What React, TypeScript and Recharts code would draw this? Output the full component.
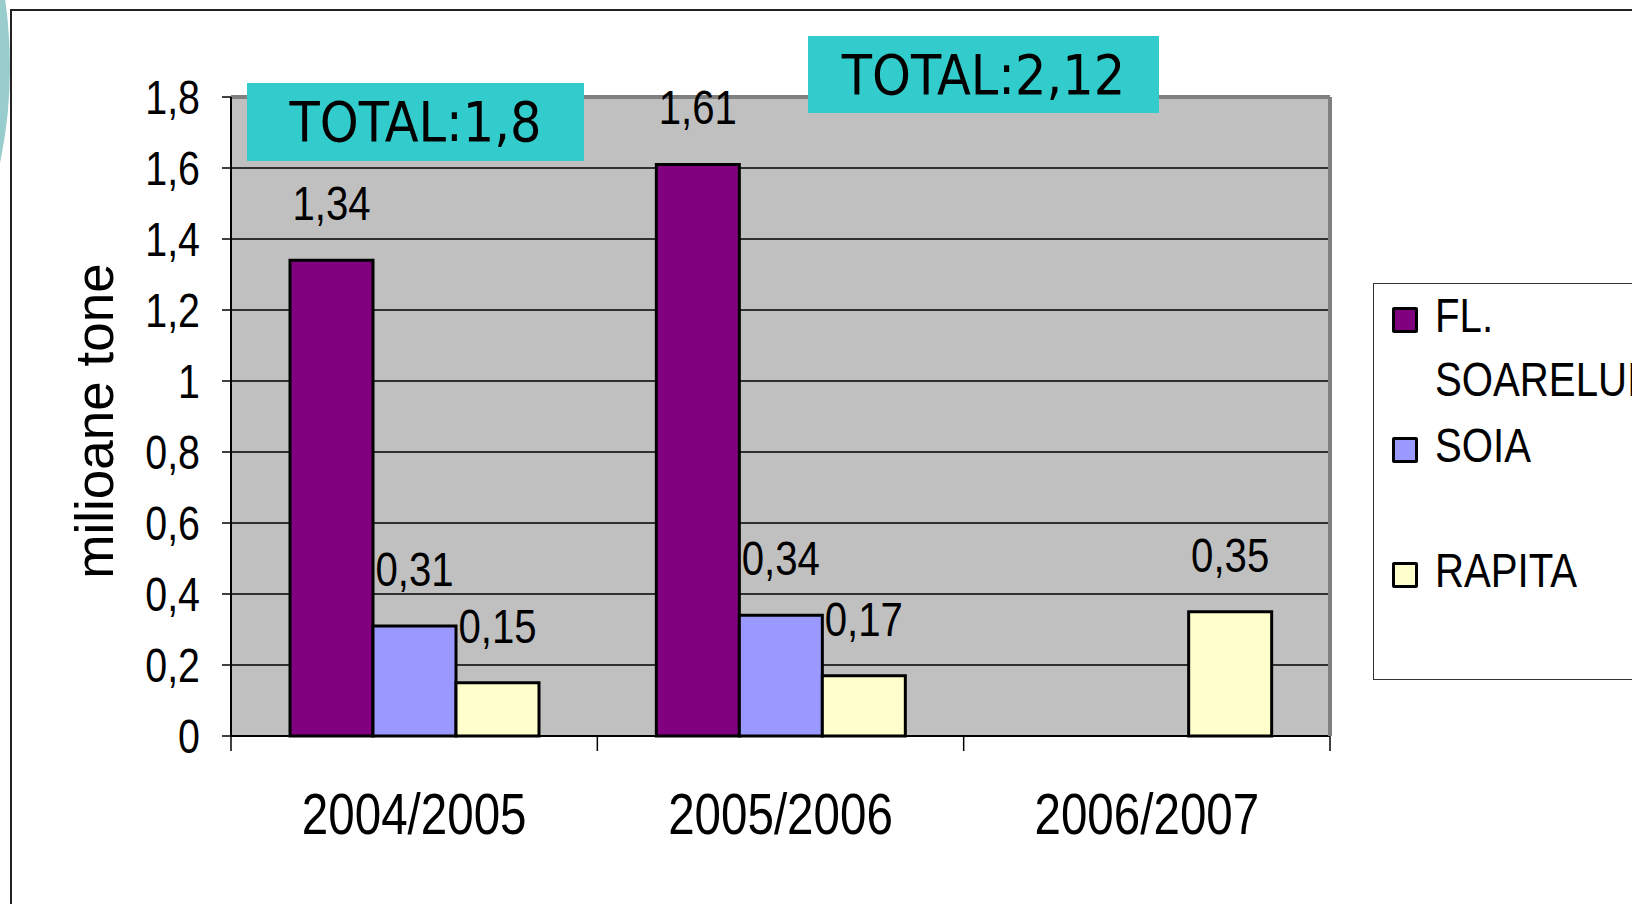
import React from 'react';
import { BarChart, Bar, XAxis, YAxis, CartesianGrid, LabelList } from 'recharts';

const categories = ['2004/2005', '2005/2006', '2006/2007'];
const sunflower = [1.34, 1.61, null];
const soy = [0.31, 0.34, null];
const rapeseed = [0.15, 0.17, 0.35];
const yTicks = [0, 0.2, 0.4, 0.6, 0.8, 1, 1.2, 1.4, 1.6, 1.8];
const totals = ['TOTAL:1,8', 'TOTAL:2,12'];

const series = [
  { key: 'fl', name: 'FL. SOARELUI', color: '#800080' },
  { key: 'soia', name: 'SOIA', color: '#9999FF' },
  { key: 'rapita', name: 'RAPITA', color: '#FFFFCC' },
];

const data = categories.map((cat, i) => ({
  cat,
  fl: sunflower[i],
  soia: soy[i],
  rapita: rapeseed[i],
}));

const SANS = '"Liberation Sans", Arial, sans-serif';
const COND = '"DejaVu Sans Condensed", "DejaVu Sans", Verdana, sans-serif';
const SQUEEZE = 0.82; // the original uses a narrow Arial
const X_LABEL_GAP = 57;
const X_TICK_LEN = 15;

const comma = (v: any) => (v == null ? '' : String(v).replace('.', ','));

// narrow-looking svg text: scale horizontally around the anchor point
const NarrowText = ({ x, y, anchor, dy, size, children }: any) => (
  <g transform={`translate(${x},${y}) scale(${SQUEEZE},1)`}>
    <text x={0} y={0} dy={dy} textAnchor={anchor} fontFamily={SANS} fontSize={size} fill="#000">
      {children}
    </text>
  </g>
);

// category label + tick marks on the category boundaries (Excel style)
const XTick = (props: any) => {
  const { x, y, payload, index } = props;
  const half = payload.offset || 183;
  const axisY = y - X_LABEL_GAP;
  const last = index === categories.length - 1;
  return (
    <g>
      <line x1={x - half} x2={x - half} y1={axisY} y2={axisY + X_TICK_LEN} stroke="#000" strokeWidth={1.5} />
      {last && (
        <line x1={x + half} x2={x + half} y1={axisY} y2={axisY + X_TICK_LEN} stroke="#000" strokeWidth={1.5} />
      )}
      <NarrowText x={x} y={y} anchor="middle" dy="0.71em" size={58}>
        {payload.value}
      </NarrowText>
    </g>
  );
};

const YTick = (props: any) => (
  <NarrowText x={props.x} y={props.y} anchor="end" dy="0.355em" size={48}>
    {comma(props.payload.value)}
  </NarrowText>
);

const BarLabel = (props: any) => {
  if (props.value == null) return null;
  const vb = props.viewBox && props.viewBox.width != null ? props.viewBox : props;
  return (
    <NarrowText x={vb.x + vb.width / 2} y={vb.y - 40} anchor="middle" dy={0} size={49}>
      {comma(props.value)}
    </NarrowText>
  );
};

const TotalBox: React.FC<{ text: string; left: number; top: number; width: number; height: number }> = ({
  text,
  left,
  top,
  width,
  height,
}) => (
  <div
    style={{
      position: 'absolute',
      left,
      top,
      width,
      height,
      background: '#33CCCC',
      display: 'flex',
      alignItems: 'center',
      justifyContent: 'center',
      fontFamily: COND,
      fontSize: 55,
      color: '#000',
    }}
  >
    {text}
  </div>
);

const Swatch: React.FC<{ color: string; top: number }> = ({ color, top }) => (
  <div
    style={{
      position: 'absolute',
      left: 1392,
      top,
      width: 20,
      height: 20,
      background: color,
      border: '3px solid #000',
      borderRadius: 2,
    }}
  />
);

const LegendText: React.FC<{ text: string; top: number }> = ({ text, top }) => (
  <div
    style={{
      position: 'absolute',
      left: 1435,
      top,
      fontFamily: SANS,
      fontSize: 49,
      lineHeight: '49px',
      whiteSpace: 'nowrap',
      color: '#000',
      transform: `scaleX(${SQUEEZE})`,
      transformOrigin: 'left center',
    }}
  >
    {text}
  </div>
);

export default function App() {
  return (
    <div
      style={{
        position: 'absolute',
        left: 0,
        top: 0,
        width: 1632,
        height: 904,
        overflow: 'hidden',
        background: '#fff',
      }}
    >
      {/* slide decoration */}
      <div
        style={{
          position: 'absolute',
          left: 10 - 2 * 466,
          top: 67 - 466,
          width: 932,
          height: 932,
          borderRadius: '50%',
          background: '#99CCCC',
        }}
      />
      <div
        style={{
          position: 'absolute',
          left: 10,
          top: 9,
          width: 1700,
          height: 1000,
          borderLeft: '2px solid #222',
          borderTop: '2px solid #222',
          background: '#fff',
        }}
      />

      <div style={{ position: 'absolute', left: 0, top: 0 }}>
        <BarChart
          width={1632}
          height={904}
          data={data}
          margin={{ top: 96, right: 301, left: 230, bottom: 167 }}
          barGap={0}
          barSize={83}
        >
          <CartesianGrid vertical={false} stroke="#000" strokeWidth={1.5} fill="#C0C0C0" fillOpacity={1} />
          <XAxis
            dataKey="cat"
            height={1}
            tickLine={false}
            tickSize={0}
            tickMargin={X_LABEL_GAP}
            axisLine={{ stroke: '#000', strokeWidth: 2 }}
            tick={XTick}
            interval={0}
          />
          <XAxis
            xAxisId="top"
            dataKey="cat"
            orientation="top"
            height={1}
            tick={false}
            tickLine={false}
            axisLine={{ stroke: '#808080', strokeWidth: 4 }}
          />
          <YAxis
            domain={[0, 1.8]}
            ticks={yTicks}
            width={1}
            interval={0}
            tickSize={9}
            tickMargin={22}
            tickLine={{ stroke: '#000', strokeWidth: 1.5 }}
            axisLine={{ stroke: '#000', strokeWidth: 2 }}
            tick={YTick}
          />
          <YAxis
            yAxisId="right"
            orientation="right"
            domain={[0, 1.8]}
            width={1}
            tick={false}
            tickLine={false}
            axisLine={{ stroke: '#808080', strokeWidth: 4 }}
          />
          {series.map((s) => (
            <Bar
              key={s.key}
              dataKey={s.key}
              name={s.name}
              fill={s.color}
              stroke="#000"
              strokeWidth={3}
              isAnimationActive={false}
            >
              <LabelList dataKey={s.key} position="top" content={BarLabel} />
            </Bar>
          ))}
        </BarChart>
      </div>

      {/* y axis title */}
      <div
        style={{
          position: 'absolute',
          left: 94,
          top: 421,
          transform: 'translate(-50%, -50%) rotate(-90deg)',
          fontFamily: SANS,
          fontSize: 53,
          whiteSpace: 'nowrap',
          color: '#000',
        }}
      >
        milioane tone
      </div>

      <TotalBox text={totals[0]} left={247} top={83} width={337} height={78} />
      <TotalBox text={totals[1]} left={808} top={36} width={351} height={77} />

      {/* legend */}
      <div
        style={{
          position: 'absolute',
          left: 1373,
          top: 283,
          width: 400,
          height: 395,
          border: '1.5px solid #333',
          background: '#fff',
        }}
      />
      <Swatch color={series[0].color} top={307} />
      <LegendText text="FL." top={291} />
      <LegendText text="SOARELUI" top={355} />
      <Swatch color={series[1].color} top={437} />
      <LegendText text="SOIA" top={421} />
      <Swatch color={series[2].color} top={562} />
      <LegendText text="RAPITA" top={546} />
    </div>
  );
}
